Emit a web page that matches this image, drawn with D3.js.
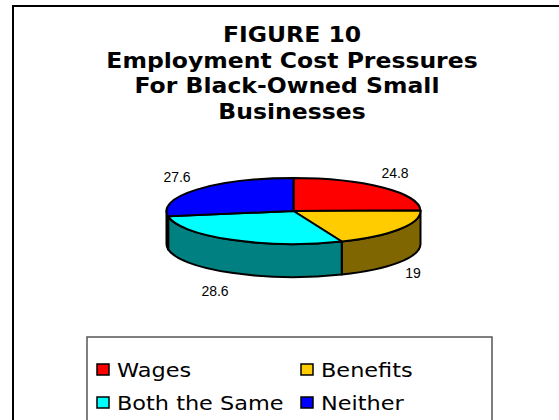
<!DOCTYPE html>
<html>
<head>
<meta charset="utf-8">
<script src="https://cdn.jsdelivr.net/npm/d3@7"></script>
<style>
  html, body { margin: 0; padding: 0; background: #fff; }
  svg { display: block; }
</style>
</head>
<body>
<svg id="chart" width="559" height="420"></svg>
<script>
// Survey shares, in percent
const categories = ["Wages", "Benefits", "Both the Same", "Neither"];
const values = [24.8, 19, 28.6, 27.6];
const topColors = ["#FF0000", "#FFCC00", "#00FFFF", "#0000FF"];
const sideColors = ["#800000", "#806600", "#008080", "#000080"];
const valueLabels = ["24.8", "19", "28.6", "27.6"];
const titleLines = ["FIGURE 10", "Employment Cost Pressures", "For Black-Owned Small", "Businesses"];

const svg = d3.select("#chart");

// outer frame (runs off the right and bottom edges)
svg.append("path")
  .attr("d", "M13,430 L13,6 L570,6")
  .attr("fill", "none")
  .attr("stroke", "#000")
  .attr("stroke-width", 2);

// title
const title = svg.append("g")
  .attr("font-family", "'DejaVu Sans', Verdana, sans-serif")
  .attr("font-weight", "bold")
  .attr("font-size", 21)
  .attr("fill", "#000");
titleLines.forEach((t, i) => {
  title.append("text")
    .attr("transform", `translate(${i === 2 ? 287 : 292},${42 + i * 25.5}) scale(1.12,1)`)
    .attr("text-anchor", "middle")
    .text(t);
});

// 3D pie geometry
const cx = 293.5, cy = 211, rx = 127, ry = 33, depth = 33;
const pt = (a, dy = 0) => [cx + rx * Math.sin(a), cy - ry * Math.cos(a) + dy];

const pie = d3.pie().sort(null).startAngle(0).endAngle(2 * Math.PI);
const arcs = pie(values).map((d, i) => ({ ...d, i }));

// side walls: only the front half (angles between pi/2 and 3pi/2) shows
const sides = svg.append("g");
arcs.forEach(d => {
  const a0 = Math.max(d.startAngle, Math.PI / 2);
  const a1 = Math.min(d.endAngle, 3 * Math.PI / 2);
  if (a1 <= a0) return;
  const p0 = pt(a0), p1 = pt(a1), q1 = pt(a1, depth), q0 = pt(a0, depth);
  sides.append("path")
    .attr("d", `M${p0}A${rx},${ry} 0 0 1 ${p1}L${q1}A${rx},${ry} 0 0 0 ${q0}Z`)
    .attr("fill", sideColors[d.i])
    .attr("stroke", "#000")
    .attr("stroke-width", 2)
    .attr("stroke-linejoin", "round");
});

// top faces
const tops = svg.append("g");
arcs.forEach(d => {
  const p0 = pt(d.startAngle), p1 = pt(d.endAngle);
  const large = d.endAngle - d.startAngle > Math.PI ? 1 : 0;
  tops.append("path")
    .attr("d", `M${cx},${cy}L${p0}A${rx},${ry} 0 ${large} 1 ${p1}Z`)
    .attr("fill", topColors[d.i])
    .attr("stroke", "#000")
    .attr("stroke-width", 2)
    .attr("stroke-linejoin", "round");
});

// value labels placed outside each slice
const labelPos = [[395, 178], [413, 278], [215, 296], [177, 182]];
const labels = svg.append("g")
  .attr("font-family", "'Liberation Sans', Arial, sans-serif")
  .attr("font-size", 14)
  .attr("fill", "#000")
  .attr("text-anchor", "middle");
arcs.forEach(d => {
  labels.append("text")
    .attr("x", labelPos[d.i][0])
    .attr("y", labelPos[d.i][1])
    .text(valueLabels[d.i]);
});

// legend
const legend = svg.append("g");
legend.append("rect")
  .attr("x", 87).attr("y", 337)
  .attr("width", 405).attr("height", 100)
  .attr("fill", "#fff")
  .attr("stroke", "#555")
  .attr("stroke-width", 1.5);
const colX = [97, 301], rowY = [370, 403];
categories.forEach((c, i) => {
  const x = colX[i % 2], y = rowY[Math.floor(i / 2)];
  legend.append("rect")
    .attr("x", x).attr("y", y - 6)
    .attr("width", 12).attr("height", 11)
    .attr("fill", topColors[i])
    .attr("stroke", "#000")
    .attr("stroke-width", 1.5);
  legend.append("text")
    .attr("transform", `translate(${x + 20},${y + 7}) scale(1.12,1)`)
    .attr("font-family", "'DejaVu Sans', Verdana, sans-serif")
    .attr("font-size", 20)
    .attr("fill", "#000")
    .text(c);
});
</script>
</body>
</html>
